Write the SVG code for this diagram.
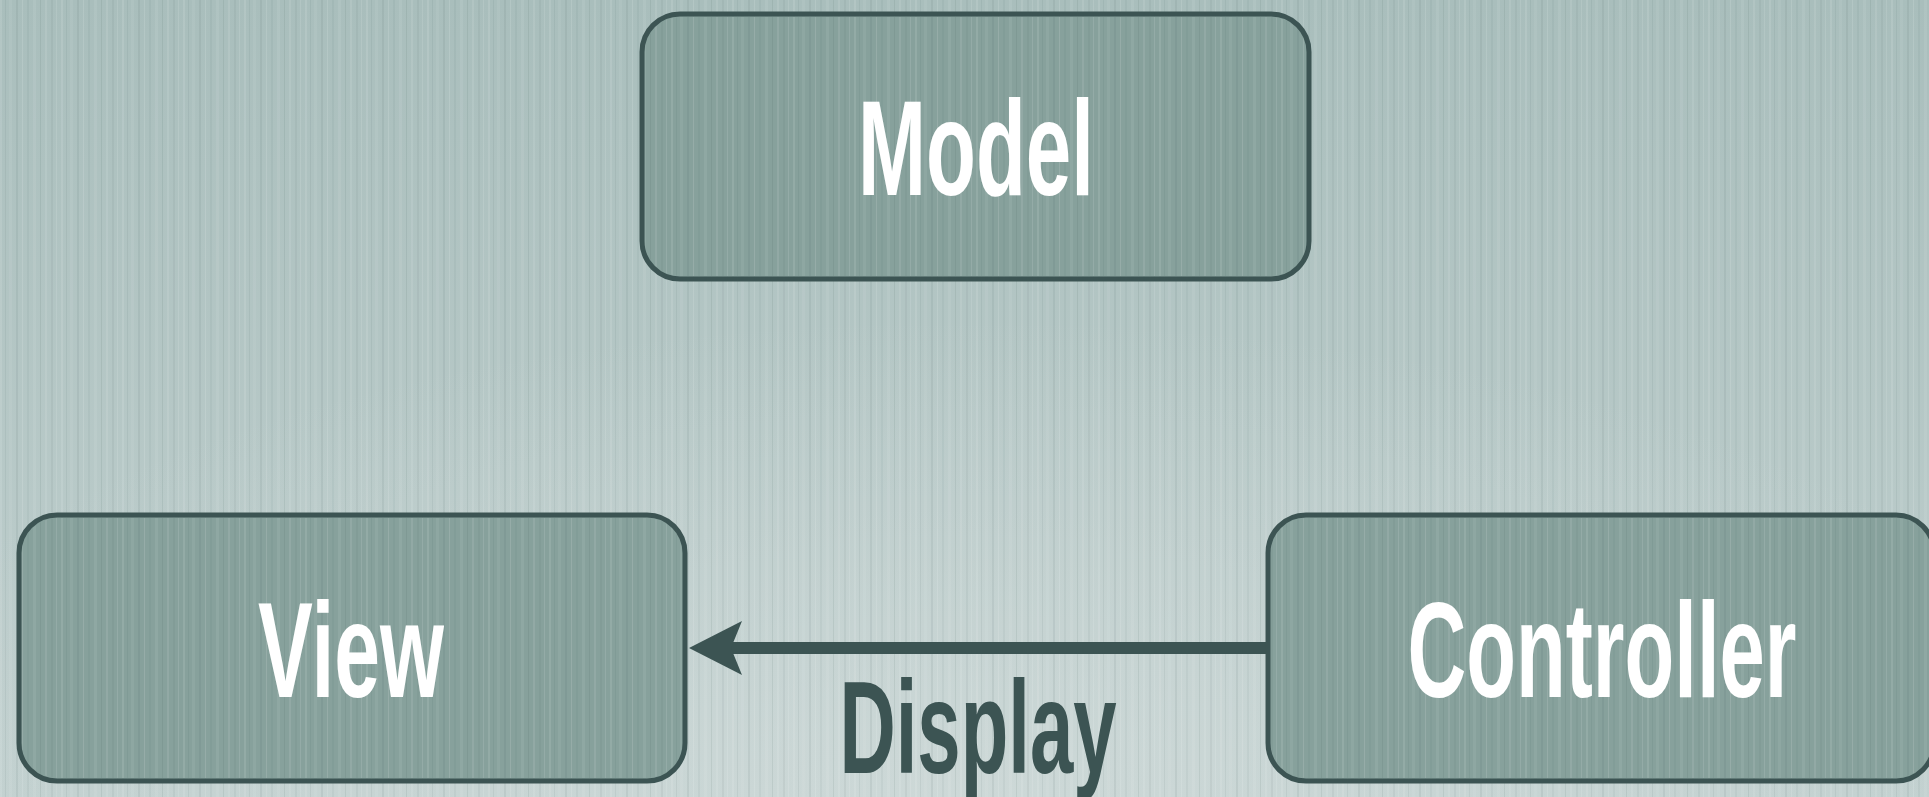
<svg xmlns="http://www.w3.org/2000/svg" width="1929" height="797" viewBox="0 0 1929 797">
  <defs>
    <linearGradient id="bg" x1="0" y1="0" x2="0" y2="1">
      <stop offset="0" stop-color="#a9bebc"/>
      <stop offset="1" stop-color="#c1d0cf"/>
    </linearGradient>
    <radialGradient id="glow" cx="0.5" cy="1" r="0.6">
      <stop offset="0" stop-color="#d2dcdb" stop-opacity="0.7"/>
      <stop offset="1" stop-color="#d2dcdb" stop-opacity="0"/>
    </radialGradient>
    <pattern id="stripes" x="0" y="0" width="61" height="10" patternUnits="userSpaceOnUse">
      <rect x="0" y="0" width="2" height="10" fill="#ffffff" opacity="0.10"/>
      <rect x="5" y="0" width="1" height="10" fill="#2f4a48" opacity="0.07"/>
      <rect x="9" y="0" width="3" height="10" fill="#ffffff" opacity="0.06"/>
      <rect x="16" y="0" width="2" height="10" fill="#2f4a48" opacity="0.08"/>
      <rect x="22" y="0" width="1" height="10" fill="#ffffff" opacity="0.12"/>
      <rect x="27" y="0" width="2" height="10" fill="#2f4a48" opacity="0.05"/>
      <rect x="33" y="0" width="3" height="10" fill="#ffffff" opacity="0.07"/>
      <rect x="40" y="0" width="1" height="10" fill="#2f4a48" opacity="0.09"/>
      <rect x="45" y="0" width="2" height="10" fill="#ffffff" opacity="0.09"/>
      <rect x="51" y="0" width="2" height="10" fill="#2f4a48" opacity="0.06"/>
      <rect x="56" y="0" width="1" height="10" fill="#ffffff" opacity="0.11"/>
    </pattern>
    <marker id="arrow" markerUnits="userSpaceOnUse" markerWidth="54" markerHeight="54" viewBox="0 0 54 54" refX="11" refY="27" orient="auto">
      <path d="M0,0 L53,27 L0,54 L11,27 Z" fill="#3c5453"/>
    </marker>
    <style>
      .box { fill: #87a19c; stroke: #3c5453; stroke-width: 5; }
      .tex { fill: url(#stripes); }
      .label { font-family: "Liberation Sans", Arial, sans-serif; font-weight: bold; font-size: 136px; fill: #ffffff; text-anchor: middle; }
      .edge { stroke: #3c5453; stroke-width: 12; fill: none; }
      .elabel { font-family: "Liberation Sans", Arial, sans-serif; font-weight: bold; font-size: 131px; fill: #3c5453; text-anchor: middle; }
    </style>
  </defs>

  <rect x="0" y="0" width="1929" height="797" fill="url(#bg)"/>
  <rect x="0" y="0" width="1929" height="797" fill="url(#glow)"/>
  <rect x="0" y="0" width="1929" height="797" class="tex"/>

  <g id="connectors">
    <line class="edge" x1="1266" y1="648" x2="731" y2="648" marker-end="url(#arrow)"/>
    <text class="elabel" x="978" y="773" textLength="277" lengthAdjust="spacingAndGlyphs">Display</text>
  </g>

  <g id="model">
    <rect class="box" x="642" y="14" width="667" height="265" rx="38"/>
    <rect class="tex" x="645" y="17" width="661" height="259" rx="35"/>
    <text class="label" x="976" y="195" textLength="236" lengthAdjust="spacingAndGlyphs">Model</text>
  </g>

  <g id="view">
    <rect class="box" x="19" y="515" width="666" height="266" rx="38"/>
    <rect class="tex" x="22" y="518" width="660" height="260" rx="35"/>
    <text class="label" x="351" y="697" textLength="186" lengthAdjust="spacingAndGlyphs">View</text>
  </g>

  <g id="controller">
    <rect class="box" x="1268" y="515" width="666" height="266" rx="38"/>
    <rect class="tex" x="1271" y="518" width="660" height="260" rx="35"/>
    <text class="label" x="1602" y="697" textLength="389" lengthAdjust="spacingAndGlyphs">Controller</text>
  </g>
</svg>
